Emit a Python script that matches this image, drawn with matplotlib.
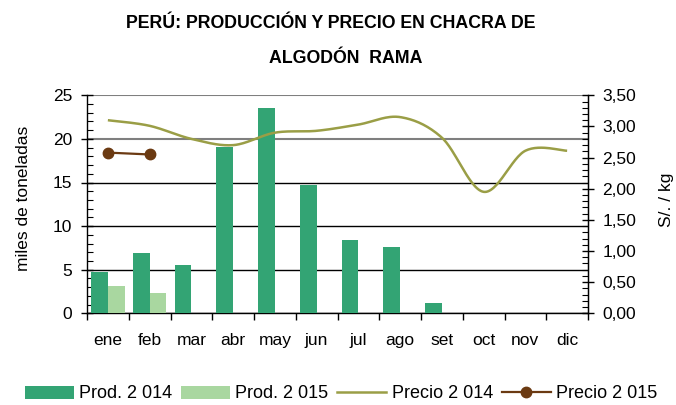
import numpy as np
import matplotlib
matplotlib.use("Agg")
import matplotlib.pyplot as plt
from matplotlib.patches import Patch
from matplotlib.lines import Line2D
from matplotlib.ticker import MultipleLocator, FixedLocator, NullFormatter

# ---------------- data ----------------
months = ["ene", "feb", "mar", "abr", "may", "jun", "jul", "ago", "set", "oct", "nov", "dic"]
prod_2014 = [4.7, 6.9, 5.55, 19.05, 23.5, 14.7, 8.4, 7.6, 1.2, np.nan, np.nan, np.nan]
prod_2015 = [3.15, 2.35] + [np.nan] * 10
precio_2014 = [3.10, 3.01, 2.80, 2.70, 2.90, 2.93, 3.03, 3.15, 2.82, 1.95, 2.61, 2.61]
precio_2015 = [2.58, 2.55] + [np.nan] * 10

title_line1 = "PERÚ: PRODUCCIÓN Y PRECIO EN CHACRA DE"
title_line2 = "ALGODÓN  RAMA"
ylabel_left = "miles de toneladas"
ylabel_right = "S/. / kg"
legend_labels = ["Prod. 2 014", "Prod. 2 015", "Precio 2 014", "Precio 2 015"]

# ---------------- style ----------------
C_P14 = "#33a474"
C_P15 = "#a9d7a0"
C_L14 = "#9a9e46"
C_L15 = "#6b3a12"
FS = 12.5

plt.rcParams["font.family"] = ["Liberation Sans", "DejaVu Sans"]

fig = plt.figure(figsize=(6.76, 4.05), dpi=100)
ax = fig.add_axes([87 / 676, 1 - 313.3 / 405, (588 - 87) / 676, (313.3 - 95.3) / 405])
ax2 = ax.twinx()

x = np.arange(len(months))
bw = 0.40
ax.bar(x - bw / 2, prod_2014, width=bw, color=C_P14, zorder=3, linewidth=0)
ax.bar(x + bw / 2, prod_2015, width=bw, color=C_P15, zorder=3, linewidth=0)

ax.set_xlim(-0.5, len(months) - 0.5)
ax.set_ylim(0, 25)
ax.yaxis.set_major_locator(MultipleLocator(5))
ax.yaxis.set_minor_locator(MultipleLocator(1))

# grid
ax.grid(axis="y", which="major", color="black", linewidth=1.0, zorder=1)
ax.set_axisbelow(True)
for gl, val in zip(ax.get_ygridlines(), ax.get_yticks()):
    if val >= 20:
        gl.set_color("#7f7f7f")
        gl.set_linewidth(1.5)

# x ticks: boundaries as marks, labels at centres
ax.xaxis.set_major_locator(FixedLocator(np.arange(-0.5, len(months), 1.0)))
ax.xaxis.set_major_formatter(NullFormatter())
ax.xaxis.set_minor_locator(FixedLocator(x))
ax.set_xticklabels(months, minor=True)
ax.tick_params(axis="x", which="major", direction="out", length=5, width=1, color="black")
ax.tick_params(axis="x", which="minor", length=0, pad=14, labelsize=FS)

ax.tick_params(axis="y", which="major", direction="inout", length=8, width=1, pad=6.5, labelsize=FS)
ax.tick_params(axis="y", which="minor", direction="in", length=4, width=0.8)

for s in ["top"]:
    ax.spines[s].set_visible(False)
    ax2.spines[s].set_visible(False)
for s in ["left", "bottom"]:
    ax.spines[s].set_linewidth(1.0)
ax2.spines["right"].set_linewidth(1.0)
ax2.spines["left"].set_visible(False)
ax2.spines["bottom"].set_visible(False)

# secondary axis: prices (smoothed like the spreadsheet line)
def catmull_rom(xs, ys, n=30):
    xs = np.asarray(xs, float)
    ys = np.asarray(ys, float)
    px, py = [], []
    m = len(xs)
    for i in range(m - 1):
        p0 = (xs[max(i - 1, 0)], ys[max(i - 1, 0)])
        p1 = (xs[i], ys[i])
        p2 = (xs[i + 1], ys[i + 1])
        p3 = (xs[min(i + 2, m - 1)], ys[min(i + 2, m - 1)])
        c1 = (p1[0] + (p2[0] - p0[0]) / 6, p1[1] + (p2[1] - p0[1]) / 6)
        c2 = (p2[0] - (p3[0] - p1[0]) / 6, p2[1] - (p3[1] - p1[1]) / 6)
        t = np.linspace(0, 1, n)
        bx = (1 - t) ** 3 * p1[0] + 3 * (1 - t) ** 2 * t * c1[0] + 3 * (1 - t) * t ** 2 * c2[0] + t ** 3 * p2[0]
        by = (1 - t) ** 3 * p1[1] + 3 * (1 - t) ** 2 * t * c1[1] + 3 * (1 - t) * t ** 2 * c2[1] + t ** 3 * p2[1]
        px.extend(bx)
        py.extend(by)
    return np.array(px), np.array(py)

sx, sy = catmull_rom(x, precio_2014)
ax2.plot(sx, sy, color=C_L14, linewidth=1.8, zorder=4, solid_capstyle="butt")
ax2.plot(x, precio_2015, color=C_L15, linewidth=1.6, marker="o", markersize=7.5, zorder=5)

ax2.set_ylim(0, 3.5)
ax2.yaxis.set_major_locator(MultipleLocator(0.5))
ax2.yaxis.set_minor_locator(MultipleLocator(0.1))
ax2.yaxis.set_major_formatter(matplotlib.ticker.FuncFormatter(lambda v, p: f"{v:.2f}".replace(".", ",")))
ax2.tick_params(axis="y", which="major", direction="inout", length=8, width=1, pad=6.5, labelsize=FS)
ax2.tick_params(axis="y", which="minor", direction="in", length=4, width=0.8)

# labels
fig.text(24 / 676, 1 - 198 / 405, ylabel_left, rotation=90, ha="center", va="center", fontsize=FS)
fig.text(667 / 676, 1 - 200 / 405, ylabel_right, rotation=90, ha="center", va="center", fontsize=FS)
fig.text(331 / 676, 1 - 24 / 405, title_line1, ha="center", va="center", fontsize=12.8, fontweight="bold")
fig.text(346 / 676, 1 - 58.5 / 405, title_line2, ha="center", va="center", fontsize=12.8, fontweight="bold")

handles = [
    Patch(facecolor=C_P14, edgecolor="none"),
    Patch(facecolor=C_P15, edgecolor="none"),
    Line2D([], [], color=C_L14, linewidth=1.8),
    Line2D([], [], color=C_L15, linewidth=1.6, marker="o", markersize=7.5),
]
fig.legend(handles, legend_labels, loc="center", bbox_to_anchor=(341 / 676, 1 - 394 / 405),
           ncol=4, frameon=False, fontsize=13, handlelength=2.7, handleheight=0.7,
           handletextpad=0.3, columnspacing=0.5, borderpad=0, borderaxespad=0)

fig.savefig("out.png", dpi=100)
